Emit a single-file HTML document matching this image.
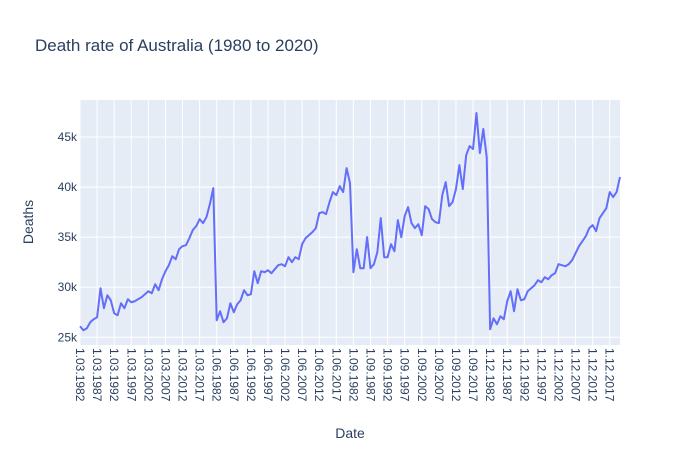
<!DOCTYPE html>
<html><head><meta charset="utf-8">
<style>
body{margin:0;background:#fff;}
svg{display:block;font-family:"Liberation Sans",Arial,sans-serif;}
</style></head>
<body>
<svg id="chart" width="700" height="450">
  <rect x="0" y="0" width="700" height="450" fill="#fff"/>
  <text x="35" y="51" font-size="17" fill="#2a3f5f">Death rate of Australia (1980 to 2020)</text>
  <rect x="80" y="100" width="540" height="245" fill="#e5ecf6"/>
  <g id="grid"></g>
  <g id="series"></g>
  <g id="xticks"></g>
  <g id="yticks"></g>
  <text x="350" y="438" font-size="14" fill="#2a3f5f" text-anchor="middle">Date</text>
  <text x="0" y="0" font-size="14" fill="#2a3f5f" text-anchor="middle" transform="translate(33,222) rotate(-90)">Deaths</text>
</svg>
<script>
const months = ["03","06","09","12"];
const years = [1982,1983,1984,1985,1986,1987,1988,1989,1990,1991,1992,1993,1994,1995,1996,1997,1998,1999,2000,2001,2002,2003,2004,2005,2006,2007,2008,2009,2010,2011,2012,2013,2014,2015,2016,2017,2018,2019,2020,2021];
const deathsMar = [26.1,25.7,25.9,26.5,26.8,27.0,29.9,27.9,29.2,28.7,27.4,27.2,28.4,27.9,28.8,28.5,28.6,28.8,29.0,29.3,29.6,29.4,30.3,29.7,30.8,31.6,32.2,33.1,32.8,33.8,34.1,34.2,34.9,35.7,36.1,36.8,36.4,37.0,38.3,39.9];
const deathsJun = [26.7,27.6,26.5,26.9,28.4,27.5,28.3,28.7,29.7,29.2,29.3,31.6,30.4,31.6,31.5,31.7,31.4,31.8,32.2,32.3,32.1,33.0,32.5,33.0,32.8,34.3,34.9,35.2,35.5,35.9,37.4,37.5,37.3,38.5,39.5,39.2,40.1,39.5,41.9,40.4];
const deathsSep = [31.5,33.8,31.9,31.9,35.0,31.9,32.3,33.5,36.9,33.0,33.0,34.3,33.6,36.7,35.0,37.1,38.0,36.4,35.9,36.3,35.2,38.1,37.8,36.8,36.5,36.4,39.2,40.5,38.1,38.5,39.8,42.2,39.8,43.2,44.1,43.8,47.4,43.4,45.8,43.0];
const deathsDec = [25.8,26.9,26.3,27.1,26.8,28.6,29.6,27.6,29.8,28.7,28.8,29.6,29.9,30.2,30.7,30.5,31.0,30.8,31.2,31.4,32.3,32.2,32.1,32.3,32.7,33.4,34.1,34.6,35.1,35.9,36.2,35.6,36.9,37.4,37.9,39.5,39.0,39.5,41.0];
const yTicks = [25,30,35,40,45];
const yTickLabels = ["25k","30k","35k","40k","45k"];

const NS="http://www.w3.org/2000/svg";
const cats=[], vals=[];
[deathsMar,deathsJun,deathsSep,deathsDec].forEach((arr,mi)=>{
  arr.forEach((v,i)=>{cats.push("1."+months[mi]+"."+years[i]);vals.push(v);});
});
const L=80,R=620,T=100,B=345,yMin=24.23,yMax=48.7;
const xScale=i=>L+i*(R-L)/(cats.length-1);
const yScale=v=>B-(v-yMin)/(yMax-yMin)*(B-T);
const grid=document.getElementById('grid'), xt=document.getElementById('xticks'), yt=document.getElementById('yticks');
function mk(tag,attrs,parent){const e=document.createElementNS(NS,tag);for(const k in attrs)e.setAttribute(k,attrs[k]);parent.appendChild(e);return e;}
for(let i=0;i<cats.length;i+=5){
  const x=xScale(i);
  const g=mk('line',{x1:x,x2:x,y1:T,y2:B,stroke:'#fff','stroke-width':1},grid);
  
  
  const t=mk('text',{x:0,y:0,'font-size':12,fill:'#2a3f5f',transform:`translate(${x-4},${B+3}) rotate(90)`},xt);
  t.textContent=cats[i];
  
  
}
yTicks.forEach((v,i)=>{
  const y=yScale(v);
  const g=mk('line',{x1:L,x2:R,y1:y,y2:y,stroke:'#fff','stroke-width':1},grid);
  
  
  const t=mk('text',{x:L-3,y:y+4,'font-size':12,fill:'#2a3f5f','text-anchor':'end'},yt);
  t.textContent=yTickLabels[i];
  
  
});
const d=vals.map((v,i)=>(i?'L':'M')+xScale(i).toFixed(2)+','+yScale(v).toFixed(2)).join('');
const p=mk('path',{d:d,fill:'none',stroke:'#636efa','stroke-width':2,'stroke-linejoin':'round'},document.getElementById('series'));


</script>
</body></html>
